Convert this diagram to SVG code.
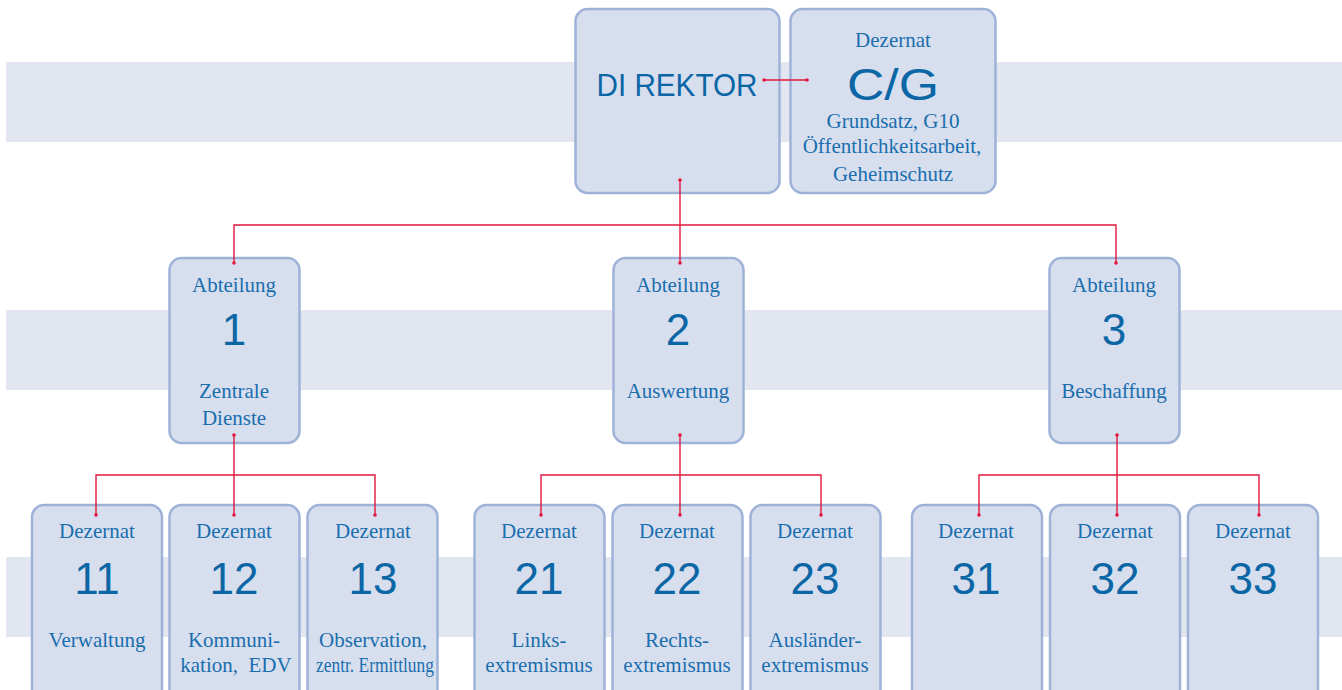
<svg xmlns="http://www.w3.org/2000/svg" width="1342" height="690" viewBox="0 0 1342 690">
<defs>
<style>
.band{fill:#e1e6f1}
.box{fill:#d7dfee;stroke:#9eb2d7;stroke-width:2.5}
.s{font-family:"Liberation Serif",serif;font-size:21px;fill:#1a6eae;text-anchor:middle}
.n{font-family:"Liberation Sans",Arial,sans-serif;font-size:44px;fill:#0b66a6;text-anchor:middle}
.c{fill:none;stroke:#e0173e;stroke-width:1.4}
.d{fill:#e0173e}
</style>
</defs>
<rect class="band" x="6" y="62" width="1336" height="80"/>
<rect class="band" x="6" y="310" width="1336" height="80"/>
<rect class="band" x="6" y="557" width="1336" height="80"/>

<g id="direktor"><rect class="box" x="575.5" y="9" width="204" height="184" rx="12"/>
<text class="n" x="677" y="96" style="font-size:31px" textLength="161" lengthAdjust="spacingAndGlyphs">DI REKTOR</text></g>
<g id="dez-cg"><rect class="box" x="790.5" y="9" width="205" height="184" rx="12"/>
<text class="s" x="893" y="47">Dezernat</text>
<text class="n" x="893" y="100" textLength="92" lengthAdjust="spacingAndGlyphs">C/G</text>
<text class="s" x="893" y="128">Grundsatz, G10</text>
<text class="s" x="892" y="153">Öffentlichkeitsarbeit,</text>
<text class="s" x="893" y="181">Geheimschutz</text></g>

<g id="abt1"><rect class="box" x="169.5" y="258" width="130" height="185" rx="12"/>
<text class="s" x="234" y="292">Abteilung</text><text class="n" x="234" y="345">1</text>
<text class="s" x="234" y="398">Zentrale</text><text class="s" x="234" y="425">Dienste</text></g>
<g id="abt2"><rect class="box" x="613.5" y="258" width="130" height="185" rx="12"/>
<text class="s" x="678" y="292">Abteilung</text><text class="n" x="678" y="345">2</text>
<text class="s" x="678" y="398">Auswertung</text></g>
<g id="abt3"><rect class="box" x="1049.5" y="258" width="130" height="185" rx="12"/>
<text class="s" x="1114" y="292">Abteilung</text><text class="n" x="1114" y="345">3</text>
<text class="s" x="1114" y="398">Beschaffung</text></g>

<g id="dez11"><rect class="box" x="32" y="505" width="130" height="200" rx="12"/>
<text class="s" x="97" y="538">Dezernat</text><text class="n" x="97" y="594">11</text>
<text class="s" x="97" y="647">Verwaltung</text></g>
<g id="dez12"><rect class="box" x="169.5" y="505" width="130" height="200" rx="12"/>
<text class="s" x="234" y="538">Dezernat</text><text class="n" x="234" y="594">12</text>
<text class="s" x="234" y="647">Kommuni-</text><text class="s" x="236" y="672">kation,&#160; EDV</text></g>
<g id="dez13"><rect class="box" x="307.5" y="505" width="130" height="200" rx="12"/>
<text class="s" x="373" y="538">Dezernat</text><text class="n" x="373" y="594">13</text>
<text class="s" x="373" y="647">Observation,</text><text class="s" x="375" y="672" textLength="118" lengthAdjust="spacingAndGlyphs">zentr. Ermittlung</text></g>

<g id="dez21"><rect class="box" x="474.5" y="505" width="130" height="200" rx="12"/>
<text class="s" x="539" y="538">Dezernat</text><text class="n" x="539" y="594">21</text>
<text class="s" x="539" y="647">Links-</text><text class="s" x="539" y="672">extremismus</text></g>
<g id="dez22"><rect class="box" x="612.5" y="505" width="130" height="200" rx="12"/>
<text class="s" x="677" y="538">Dezernat</text><text class="n" x="677" y="594">22</text>
<text class="s" x="677" y="647">Rechts-</text><text class="s" x="677" y="672">extremismus</text></g>
<g id="dez23"><rect class="box" x="750.5" y="505" width="130" height="200" rx="12"/>
<text class="s" x="815" y="538">Dezernat</text><text class="n" x="815" y="594">23</text>
<text class="s" x="815" y="647">Ausländer-</text><text class="s" x="815" y="672">extremismus</text></g>

<g id="dez31"><rect class="box" x="912" y="505" width="130" height="200" rx="12"/>
<text class="s" x="976" y="538">Dezernat</text><text class="n" x="976" y="594">31</text></g>
<g id="dez32"><rect class="box" x="1050" y="505" width="130" height="200" rx="12"/>
<text class="s" x="1115" y="538">Dezernat</text><text class="n" x="1115" y="594">32</text></g>
<g id="dez33"><rect class="box" x="1188" y="505" width="130" height="200" rx="12"/>
<text class="s" x="1253" y="538">Dezernat</text><text class="n" x="1253" y="594">33</text></g>

<g id="connectors">
<path class="c" d="M764 80H807"/>
<circle class="d" cx="764" cy="80" r="1.8"/><circle class="d" cx="807" cy="80" r="1.8"/>
<path class="c" d="M680 180V263M234 263V225H1116V263"/>
<circle class="d" cx="680" cy="180" r="1.8"/><circle class="d" cx="680" cy="263" r="1.8"/>
<circle class="d" cx="234" cy="263" r="1.8"/><circle class="d" cx="1116" cy="263" r="1.8"/>
<path class="c" d="M234 435V515M96 515V475H375V515"/>
<circle class="d" cx="234" cy="435" r="1.8"/><circle class="d" cx="234" cy="515" r="1.8"/>
<circle class="d" cx="96" cy="515" r="1.8"/><circle class="d" cx="375" cy="515" r="1.8"/>
<path class="c" d="M680 435V515M541 515V475H821V515"/>
<circle class="d" cx="680" cy="435" r="1.8"/><circle class="d" cx="680" cy="515" r="1.8"/>
<circle class="d" cx="541" cy="515" r="1.8"/><circle class="d" cx="821" cy="515" r="1.8"/>
<path class="c" d="M1117 435V515M979 515V475H1259V515"/>
<circle class="d" cx="1117" cy="435" r="1.8"/><circle class="d" cx="1117" cy="515" r="1.8"/>
<circle class="d" cx="979" cy="515" r="1.8"/><circle class="d" cx="1259" cy="515" r="1.8"/>
</g>
</svg>
